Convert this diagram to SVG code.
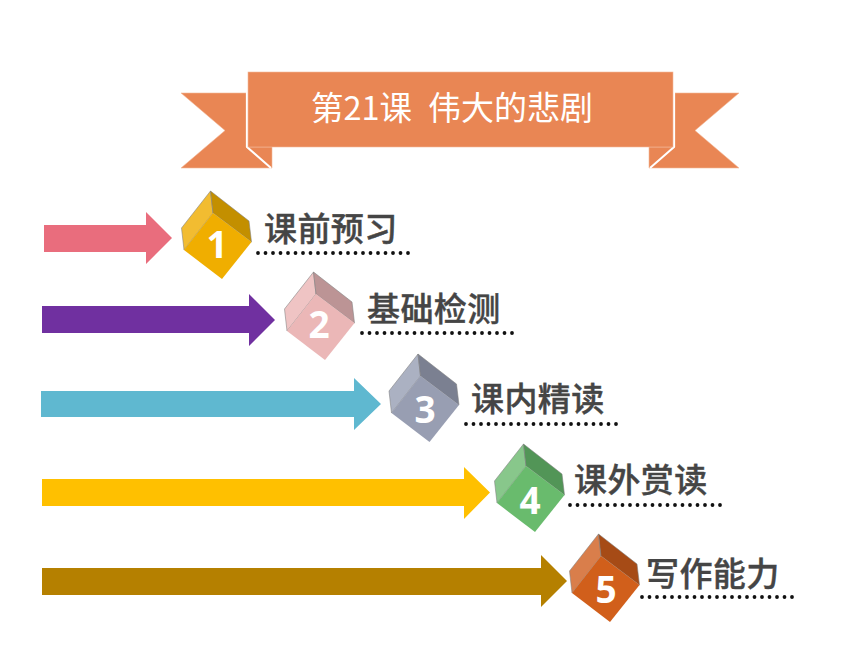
<svg xmlns="http://www.w3.org/2000/svg" width="860" height="645" viewBox="0 0 860 645">
<style>
.rib{fill:#E98654;stroke:#F3B899;stroke-width:.6}
.fold{fill:none;stroke:#fff;stroke-width:2}
.title{font:32.500px "Noto Sans CJK SC","Noto Sans",sans-serif;fill:#fff}
.lbl{font:500 33px "Noto Sans CJK SC",sans-serif;letter-spacing:.4px;fill:#454545;stroke:#454545;stroke-width:.4}
.num{font:bold 37px "Open Sans","Liberation Sans",sans-serif;fill:#fff;text-anchor:middle}
.dots{fill:none;stroke:#111;stroke-width:3.800;stroke-linecap:round;stroke-dasharray:0 7.500}
.edge{stroke:#7f7f7f;stroke-width:.7;stroke-opacity:.8}
</style>
<defs>
<g id="cube">
<path class="edge" d="M210.500 191L181.500 228L184 250L213 213Z" fill="var(--l)"/>
<path class="edge" d="M210.500 191L249 221L251.500 242L213 213Z" fill="var(--r)"/>
<path d="M213 213L251.500 242L222 279L184 250Z" fill="var(--f)"/>
</g>
</defs>
<g id="banner">
<path class="rib" d="M181 93H246V147H272V168H181L225 130.500Z"/>
<path class="rib" d="M739 93H675V147H649V168H739L695 130.500Z"/>
<path class="fold" d="M247 93V147L271 168M674 93V147L650 168"/>
<rect class="rib" x="248" y="72" width="425" height="75"/>
<text class="title" x="311" y="120">第21课</text>
<text class="title" x="428" y="120" style="font-size:33px">伟大的悲剧</text>
</g>
<g id="connectors">
<path d="M44 225H146V212L172 238L146 264V252H44Z" fill="#E96D7D"/>
<path d="M42 306H249V294L275 320L249 346V333H42Z" fill="#7030A0"/>
<path d="M41 391H354V378L381 404L354 430V417H41Z" fill="#5FB8D0"/>
<path d="M42 479H464V467L490 492.500L464 519V506H42Z" fill="#FFC000"/>
<path d="M42 568H541V555L567 581L541 607V595H42Z" fill="#B58000"/>
</g>
<g id="node1">
<use href="#cube" style="--l:#F2BC31;--r:#C38F00;--f:#F0AE00"/>
<text class="num" x="217" y="258">1</text>
<text class="lbl" x="264" y="241">课前预习</text>
<path class="dots" d="M258 253H409"/>
</g>
<g id="node2">
<use href="#cube" transform="translate(103 81)" style="--l:#EFC4C4;--r:#BC9495;--f:#EBB7B7"/>
<text class="num" x="319" y="338">2</text>
<text class="lbl" x="367" y="321">基础检测</text>
<path class="dots" d="M362 333H513"/>
</g>
<g id="node3">
<use href="#cube" transform="translate(207.500 163)" style="--l:#ABB1C2;--r:#7B8091;--f:#989EB2"/>
<text class="num" x="425" y="423">3</text>
<text class="lbl" x="471" y="411">课内精读</text>
<path class="dots" d="M466 424H617"/>
</g>
<g id="node4">
<use href="#cube" transform="translate(313 253)" style="--l:#88C78B;--r:#529557;--f:#69BB6D"/>
<text class="num" x="530" y="514">4</text>
<text class="lbl" x="574" y="492">课外赏读</text>
<path class="dots" d="M570 505H721"/>
</g>
<g id="node5">
<use href="#cube" transform="translate(388 343)" style="--l:#D97E4B;--r:#A64B16;--f:#D15F1B"/>
<text class="num" x="606" y="603">5</text>
<text class="lbl" x="646" y="586">写作能力</text>
<path class="dots" d="M642 597H793"/>
</g>
</svg>
